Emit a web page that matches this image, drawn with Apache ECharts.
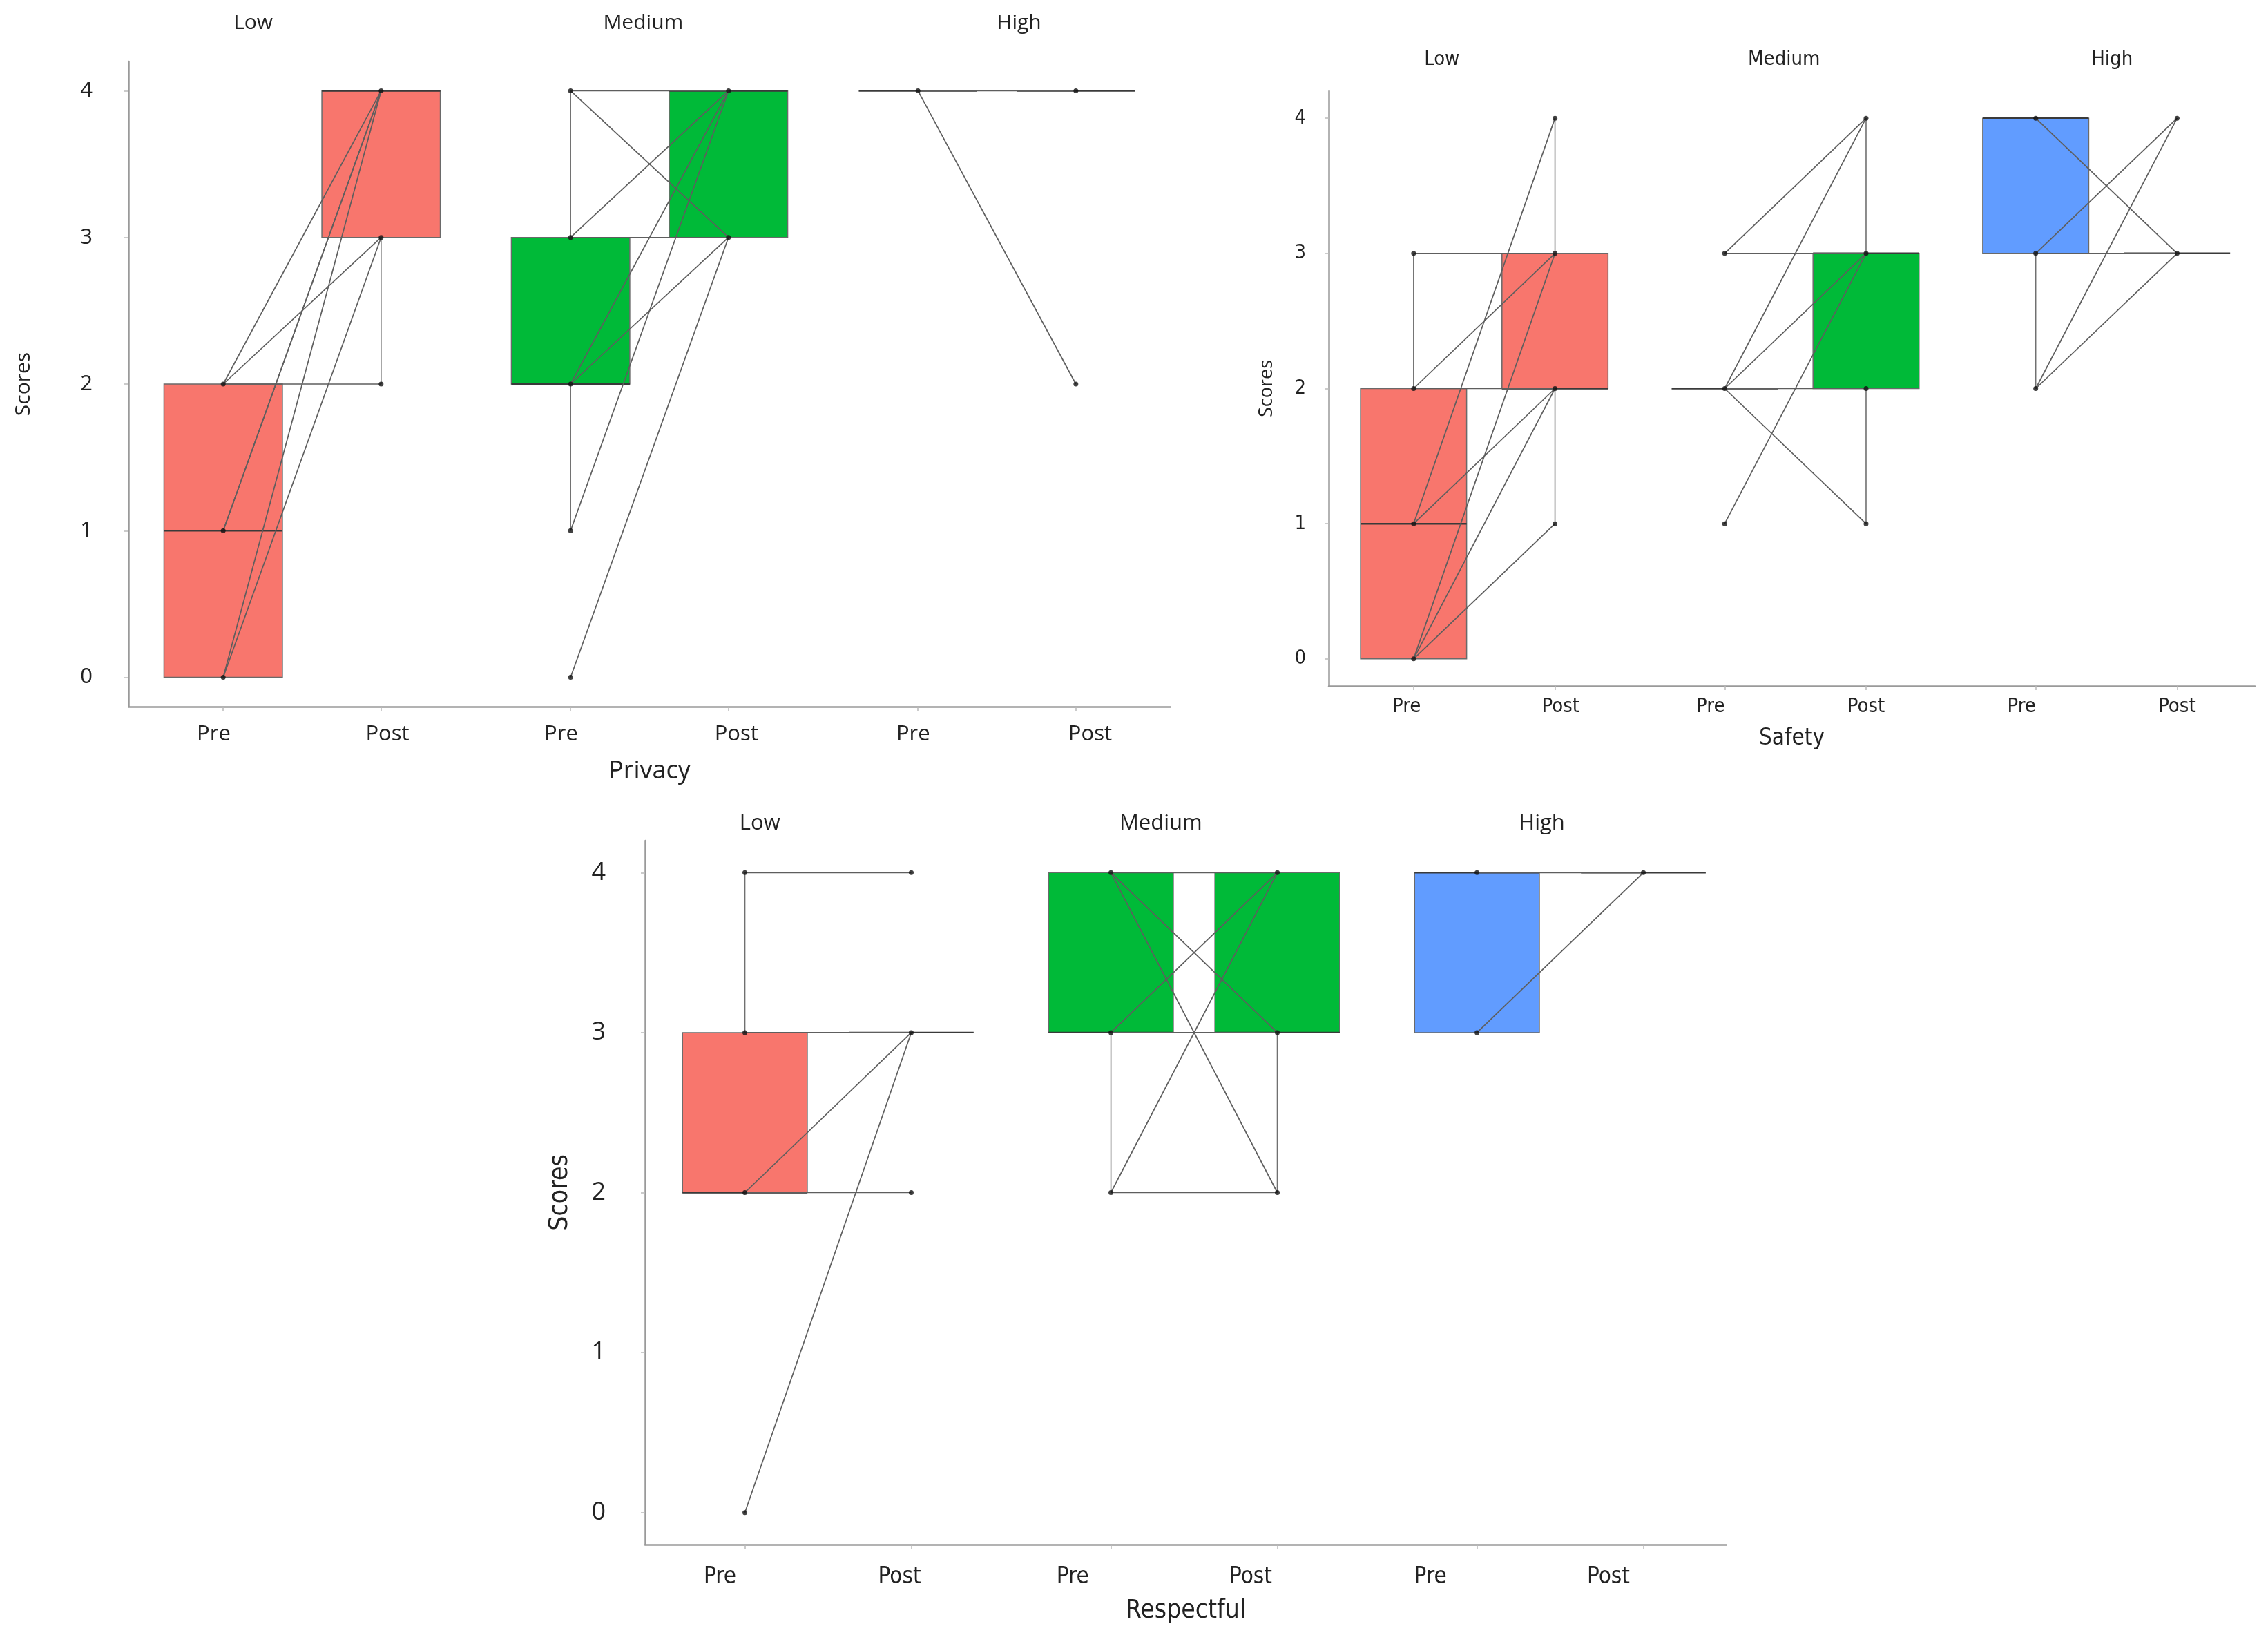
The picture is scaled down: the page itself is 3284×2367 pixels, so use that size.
<!DOCTYPE html>
<html>
<head>
<meta charset="utf-8">
<title>Pre / Post scores</title>
<script src="https://cdn.jsdelivr.net/npm/echarts@6/dist/echarts.min.js"></script>
<style>
  html, body { margin: 0; padding: 0; background: #fff; }
  #main { width: 3284px; height: 2367px; }
</style>
</head>
<body>
<div id="main"></div>
<script>
// x position of each Pre / Post slot (Low, Medium, High)
const slotX = [1, 2, 3.2, 4.2, 5.4, 6.4];
const slotNames = ['Pre', 'Post', 'Pre', 'Post', 'Pre', 'Post'];
const groupNames = ['Low', 'Medium', 'High'];
const yTicks = [0, 1, 2, 3, 4];
const boxColors = ['#F8766D', '#00BA38', '#619CFF'];

// box stats per slot: [whisker low, Q1, median, Q3, whisker high]
const privacyBox = [[0, 0, 1, 2, 2], [2, 3, 4, 4, 4], [1, 2, 2, 3, 4], [3, 3, 4, 4, 4], [4, 4, 4, 4, 4], [4, 4, 4, 4, 4]];
const safetyBox = [[0, 0, 1, 2, 3], [1, 2, 2, 3, 4], [2, 2, 2, 2, 2], [1, 2, 3, 3, 4], [2, 3, 4, 4, 4], [3, 3, 3, 3, 3]];
const respectfulBox = [[2, 2, 2, 3, 4], [3, 3, 3, 3, 3], [2, 3, 3, 4, 4], [2, 3, 3, 4, 4], [3, 3, 4, 4, 4], [4, 4, 4, 4, 4]];

// each respondent: [pre, post], per group Low / Medium / High
const privacyPairs = [
  [[2, 4], [2, 3], [2, 2], [1, 4], [1, 4], [0, 4], [0, 3]],
  [[4, 4], [4, 3], [3, 4], [3, 3], [2, 4], [2, 3], [1, 4], [0, 3]],
  [[4, 4], [4, 2]]
];
const safetyPairs = [
  [[3, 3], [2, 3], [2, 2], [1, 4], [1, 2], [0, 3], [0, 2], [0, 1]],
  [[3, 4], [3, 3], [2, 4], [2, 3], [2, 2], [2, 1], [1, 3]],
  [[4, 3], [3, 4], [3, 3], [2, 4], [2, 3]]
];
const respectfulPairs = [
  [[4, 4], [3, 3], [2, 3], [2, 2], [0, 3]],
  [[4, 4], [4, 3], [4, 2], [3, 4], [3, 3], [2, 4], [2, 2]],
  [[4, 4], [3, 4]]
];

// where the Pre/Post and Low/Medium/High labels sit on each x axis
const privacyLabelX = [0.94, 2.04, 3.14, 4.25, 5.37, 6.49];
const privacyGroupX = [1.19, 3.66, 6.04];
const safetyLabelX = [0.95, 2.04, 3.10, 4.20, 5.30, 6.40];
const safetyGroupX = [1.20, 3.62, 5.94];
const respectfulLabelX = [0.85, 1.93, 2.97, 4.04, 5.12, 6.19];
const respectfulGroupX = [1.09, 3.50, 5.79];

const boxWidth = 0.75;
const OPEN = "'Open Sans', 'Noto Sans', sans-serif";
const NARROW = "'Liberation Sans Narrow', 'DejaVu Sans Condensed', 'Open Sans', sans-serif";

const panels = [
  {
    name: 'Privacy', box: privacyBox, pairs: privacyPairs, labelX: privacyLabelX, groupX: privacyGroupX,
    grid: { left: 186, top: 89, width: 1509, height: 934 }, xMax: 7.0,
    font: { tick: [OPEN, 31, 25], group: [OPEN, 30, 41], ylab: [OPEN, 31, 52], name: [OPEN, 36, 76], yname: [OPEN, 30, 137] }
  },
  {
    name: 'Safety', box: safetyBox, pairs: safetyPairs, labelX: safetyLabelX, groupX: safetyGroupX,
    grid: { left: 1924, top: 132, width: 1341, height: 861 }, xMax: 6.95,
    font: { tick: [NARROW, 29, 16], group: [NARROW, 29, 31], ylab: [NARROW, 29, 33], name: [NARROW, 33, 60], yname: [OPEN, 27, 76] }
  },
  {
    name: 'Respectful', box: respectfulBox, pairs: respectfulPairs, labelX: respectfulLabelX, groupX: respectfulGroupX,
    grid: { left: 934, top: 1217, width: 1566, height: 1019 }, xMax: 6.9,
    font: { tick: [NARROW, 33, 31], group: [OPEN, 31, 9], ylab: [OPEN, 36, 57], name: [NARROW, 37, 78], yname: [NARROW, 37, 104] }
  }
];

function nearestLabel(list, names, v) {
  let best = 0;
  list.forEach((p, i) => { if (Math.abs(p - v) < Math.abs(list[best] - v)) best = i; });
  return names[best];
}

function seg(p1, p2, style) {
  return { type: 'line', shape: { x1: p1[0], y1: p1[1], x2: p2[0], y2: p2[1] }, style: style };
}

const grids = [], xAxes = [], yAxes = [], series = [];

panels.forEach((p, i) => {
  const f = p.font;
  grids.push(p.grid);

  // main axis: line + ticks at the slots
  xAxes.push({
    type: 'value', gridIndex: i, min: 0.4, max: p.xMax, position: 'bottom',
    axisLine: { show: true, onZero: false, lineStyle: { color: '#9a9a9a', width: 2.5 } },
    axisTick: { show: true, customValues: slotX, length: 6, lineStyle: { color: '#bbbbbb', width: 1.5 } },
    axisLabel: { show: false },
    splitLine: { show: false },
    name: p.name, nameLocation: 'middle', nameGap: f.name[2],
    nameTextStyle: { fontFamily: f.name[0], fontSize: f.name[1], color: '#222' }
  });
  // Pre / Post labels
  xAxes.push({
    type: 'value', gridIndex: i, min: 0.4, max: p.xMax, position: 'bottom',
    axisLine: { show: false, onZero: false }, axisTick: { show: false }, splitLine: { show: false },
    axisLabel: {
      show: true, customValues: p.labelX, margin: f.tick[2],
      fontFamily: f.tick[0], fontSize: f.tick[1], color: '#222',
      formatter: v => nearestLabel(p.labelX, slotNames, v)
    }
  });
  // Low / Medium / High on top
  xAxes.push({
    type: 'value', gridIndex: i, min: 0.4, max: p.xMax, position: 'top',
    axisLine: { show: false, onZero: false }, axisTick: { show: false }, splitLine: { show: false },
    axisLabel: {
      show: true, customValues: p.groupX, margin: f.group[2],
      fontFamily: f.group[0], fontSize: f.group[1], color: '#222',
      formatter: v => nearestLabel(p.groupX, groupNames, v)
    }
  });

  yAxes.push({
    type: 'value', gridIndex: i, min: -0.2, max: 4.2,
    axisLine: { show: true, onZero: false, lineStyle: { color: '#9a9a9a', width: 2.5 } },
    axisTick: { show: true, customValues: yTicks, length: 6, lineStyle: { color: '#bbbbbb', width: 1.5 } },
    axisLabel: {
      show: true, customValues: yTicks, margin: f.ylab[2],
      fontFamily: f.ylab[0], fontSize: f.ylab[1], color: '#222'
    },
    splitLine: { show: false },
    name: 'Scores', nameLocation: 'middle', nameGap: f.yname[2], nameRotate: 90,
    nameTextStyle: { fontFamily: f.yname[0], fontSize: f.yname[1], color: '#222' }
  });

  // boxes with whiskers
  series.push({
    type: 'custom', xAxisIndex: i * 3, yAxisIndex: i, z: 2, silent: true,
    data: p.box.map((s, k) => [slotX[k], s[0], s[1], s[2], s[3], s[4], Math.floor(k / 2)]),
    renderItem: (params, api) => {
      const x = api.value(0), lo = api.value(1), q1 = api.value(2), med = api.value(3), q3 = api.value(4), hi = api.value(5);
      const hw = boxWidth / 2;
      const kids = [];
      const thin = { stroke: '#707070', lineWidth: 1.6 };
      if (hi > q3) kids.push(seg(api.coord([x, q3]), api.coord([x, hi]), thin));
      if (lo < q1) kids.push(seg(api.coord([x, q1]), api.coord([x, lo]), thin));
      if (q3 > q1) {
        const a = api.coord([x - hw, q3]), b = api.coord([x + hw, q1]);
        kids.push({
          type: 'rect', shape: { x: a[0], y: a[1], width: b[0] - a[0], height: b[1] - a[1] },
          style: { fill: boxColors[api.value(6)], stroke: '#6a6a6a', lineWidth: 1.5 }
        });
      }
      kids.push(seg(api.coord([x - hw, med]), api.coord([x + hw, med]), { stroke: '#3a3a3a', lineWidth: 2.4 }));
      return { type: 'group', children: kids };
    }
  });

  // pre -> post lines for every respondent
  const lineData = [];
  const pts = {};
  p.pairs.forEach((list, g) => {
    list.forEach(pr => {
      lineData.push([slotX[2 * g], pr[0], slotX[2 * g + 1], pr[1]]);
      pts[slotX[2 * g] + ':' + pr[0]] = [slotX[2 * g], pr[0]];
      pts[slotX[2 * g + 1] + ':' + pr[1]] = [slotX[2 * g + 1], pr[1]];
    });
  });
  series.push({
    type: 'custom', xAxisIndex: i * 3, yAxisIndex: i, z: 3, silent: true,
    data: lineData,
    renderItem: (params, api) => seg(
      api.coord([api.value(0), api.value(1)]),
      api.coord([api.value(2), api.value(3)]),
      { stroke: '#5e5e5e', lineWidth: 1.7 }
    )
  });
  series.push({
    type: 'scatter', xAxisIndex: i * 3, yAxisIndex: i, z: 4, silent: true,
    symbol: 'circle', symbolSize: 7,
    itemStyle: { color: '#111' },
    data: Object.values(pts)
  });
});

const chart = echarts.init(document.getElementById('main'));
chart.setOption({
  animation: false,
  backgroundColor: '#ffffff',
  grid: grids,
  xAxis: xAxes,
  yAxis: yAxes,
  series: series
});
</script>
</body>
</html>
